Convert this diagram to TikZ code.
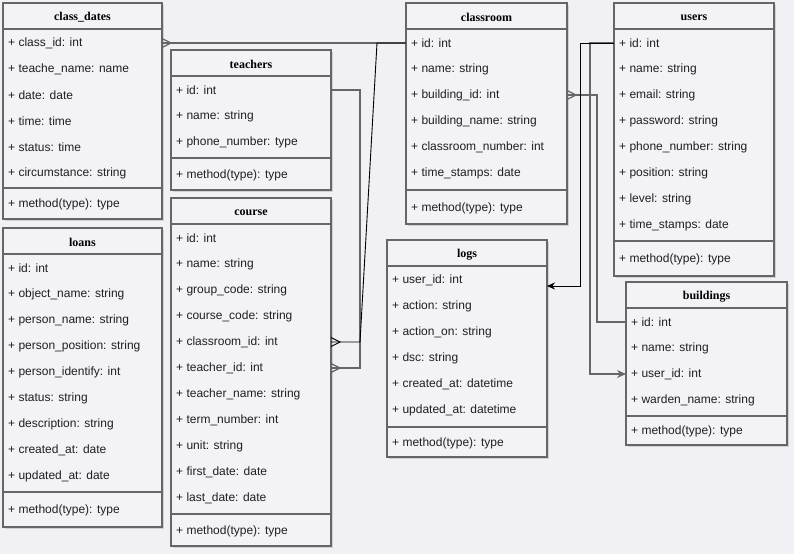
\documentclass[tikz,border=0pt]{standalone}
\usepackage{fontspec}
\setmainfont{Liberation Sans}
\newfontfamily\titlefont{Liberation Serif}
\usetikzlibrary{calc,arrows.meta,shadows}
\definecolor{bgc}{RGB}{240,240,245}
\definecolor{boxfill}{RGB}{243,243,247}
\definecolor{edge}{RGB}{102,102,102}
\tikzset{
  umlbox/.style={draw=edge, line width=1.6pt, fill=boxfill, inner sep=0pt, outer sep=0pt,
    drop shadow={shadow xshift=2pt, shadow yshift=-2pt, opacity=0.22, fill=black!60}},
  boxline/.style={draw=edge, line width=1.6pt},
  titletext/.style={font=\titlefont\bfseries\fontsize{12}{14}\selectfont, inner sep=0pt},
  rowtext/.style={font=\fontsize{12}{14}\selectfont, inner sep=0pt, anchor=west, text=black!88},
  conn/.style={draw=edge, line width=1.3pt},
  bconn/.style={draw=black, line width=0.9pt},
}
\newcommand\umlclass[8]{%
  \node[umlbox, minimum width={#3-#2}, minimum height={#5-#4}, anchor=north west] (#1) at (#2,#4) {};
  \draw[boxline] (#2,#4+26) -- (#3,#4+26);
  \draw[boxline] (#2,#6) -- (#3,#6);
  \node[titletext] (#1-t) at ({(#2+#3)/2},#4+14.5) {#7};
  \foreach \r [count=\i] in {#8} {
    \node[rowtext] (#1-\i) at (#2+5,#4+14+26*\i) {\r};
  }
  \node[rowtext] (#1-m) at (#2+5,{(#6+#5)/2+1}) {+ method(type): type};
}
\newcommand\crowfoot[2]{%
  \draw[#2] ($(#1)+(0,-4.5)$) -- ($(#1)+(9,0)$) -- ($(#1)+(0,4.5)$);
}
\begin{document}
\begin{tikzpicture}[x=1pt,y=-1pt]
\fill[bgc] (0,0) rectangle (794,554);
\useasboundingbox (0,0) rectangle (794,554);

\umlclass{cd}{3}{162}{3}{219}{188}{class\_dates}{+ class\_id: int, + teache\_name: name, + date: date, + time: time, + status: time, + circumstance: string}
\umlclass{te}{171}{331}{50}{190}{158}{teachers}{+ id: int, + name: string, + phone\_number: type}
\umlclass{co}{171}{331}{198}{546}{514}{course}{+ id: int, + name: string, + group\_code: string, + course\_code: string, + classroom\_id: int, + teacher\_id: int, + teacher\_name: string, + term\_number: int, + unit: string, + first\_date: date, + last\_date: date}
\umlclass{lo}{3}{162}{228}{527}{492}{loans}{+ id: int, + object\_name: string, + person\_name: string, + person\_position: string, + person\_identify: int, + status: string, + description: string, + created\_at: date, + updated\_at: date}
\umlclass{cr}{406}{567}{3}{224}{190}{classroom}{+ id: int, + name: string, + building\_id: int, + building\_name: string, + classroom\_number: int, + time\_stamps: date}
\umlclass{us}{614}{774}{3}{276}{241}{users}{+ id: int, + name: string, + email: string, + password: string, + phone\_number: string, + position: string, + level: string, + time\_stamps: date}
\umlclass{lg}{387}{547}{240}{457}{427}{logs}{+ user\_id: int, + action: string, + action\_on: string, + dsc: string, + created\_at: datetime, + updated\_at: datetime}
\umlclass{bu}{626}{787}{282}{445}{416}{buildings}{+ id: int, + name: string, + user\_id: int, + warden\_name: string}

% classroom -> class_dates
\draw[conn] (cr.west |- cr-1) -- (cd.east |- cd-1);
\crowfoot{cd.east |- cd-1}{conn}
% teachers -> course.teacher_id
\draw[conn] (te.east |- te-1) -- ([xshift=29pt]te.east |- te-1) -- ([xshift=29pt]co.east |- co-6) -- (co.east |- co-6);
\crowfoot{co.east |- co-6}{conn}
% classroom -> course.classroom_id
\draw[bconn] (cr.west |- cr-1) -- ++(-29,0) -- ([xshift=29pt]co.east |- co-5) -- (co.east |- co-5);
\crowfoot{co.east |- co-5}{bconn}
% classroom.building_id -> buildings.id
\draw[conn] (cr.east |- cr-3) -- ++(30,0) |- (bu.west |- bu-1);
\crowfoot{cr.east |- cr-3}{conn}
% users -> buildings.user_id
\draw[conn, -{Stealth[length=9pt,width=8pt]}] (us.west |- us-1) -- ++(-24,0) |- (bu.west |- bu-3);
% users -> logs
\draw[bconn, -{Stealth[length=8pt,width=7pt]}] (us.west |- us-1) -- ++(-34,0) |- ([yshift=-6pt]lg.east |- lg-1);
\end{tikzpicture}
\end{document}
